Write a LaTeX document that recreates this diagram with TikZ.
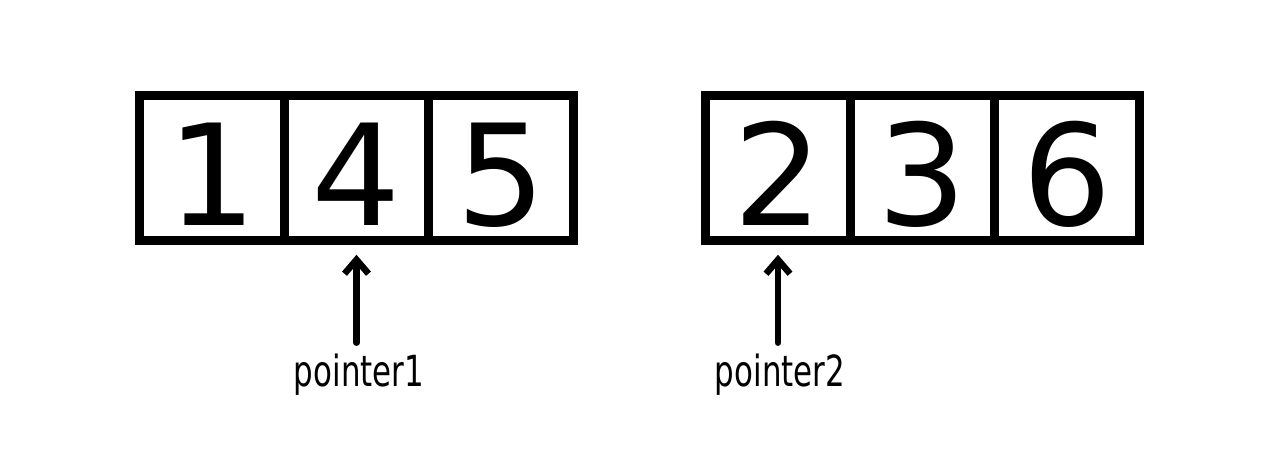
\documentclass[tikz,border=0pt]{standalone}
\usepackage{fontspec}
\setmainfont{DejaVu Sans}
\newfontfamily\ptrfont[FakeStretch=0.72]{DejaVu Sans}
\usetikzlibrary{arrows.meta, positioning}

\begin{document}
\begin{tikzpicture}[every node/.append style={align = center},
	cell/.style={draw=black, line width=0.09cm, minimum size=1.445cm, inner sep=0pt, text height=1.145cm, text depth=0cm, font=\fontsize{40}{48}\selectfont},
	ptrlabel/.style={anchor=base, inner ysep=0.11cm, font=\ptrfont\fontsize{12.2}{14}\selectfont},
	ptr/.style={line width=0.065cm, line cap=round, -{Straight Barb[length=0.14cm, width=0.24cm]}}]
	\useasboundingbox (0,0) rectangle (12.8,4.6);
		\foreach \v [count=\i] in {1,4,5}
			\node[cell] at (0.675+1.445*\i, 2.92) (a\i) {\v};
		\foreach \v [count=\i] in {2,3,6}
			\node[cell] at (6.335+1.445*\i, 2.92) (b\i) {\v};
		\node[ptrlabel] at (3.59, 0.73) (p1) {pointer1};
		\node[ptrlabel] at (7.80, 0.73) (p2) {pointer2};
		\draw[ptr] (a2.south |- p1.north) -- ([yshift=-0.1cm]a2.south);
		\draw[ptr] (b1.south |- p2.north) -- ([yshift=-0.1cm]b1.south);
	\end{tikzpicture}
\end{document}
